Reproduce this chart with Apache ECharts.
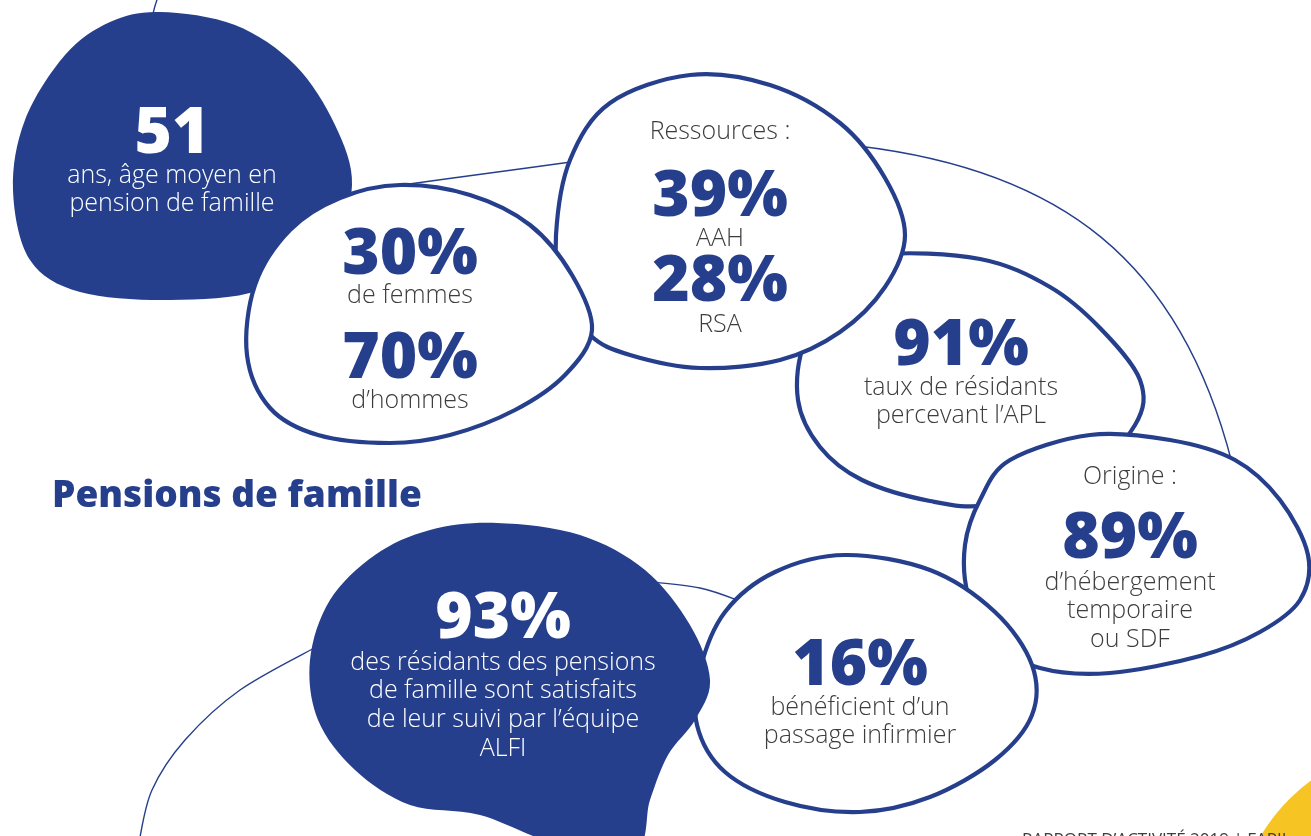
<!DOCTYPE html>
<html>
<head>
<meta charset="utf-8">
<script src="https://cdn.jsdelivr.net/npm/echarts@6/dist/echarts.min.js"></script>
<style>
html,body{margin:0;padding:0;background:#fff;}
#chart{width:1311px;height:836px;}
</style>
</head>
<body>
<div id="chart"></div>
<script>
// ---- data ----
const statValues = [51, 30, 70, 39, 28, 91, 89, 93, 16];
const statUnits = ['', '%', '%', '%', '%', '%', '%', '%', '%'];
const statCaptions = [
  ['ans, âge moyen en', 'pension de famille'],
  ['de femmes'],
  ['d’hommes'],
  ['AAH'],
  ['RSA'],
  ['taux de résidants', 'percevant l’APL'],
  ['d’hébergement', 'temporaire', 'ou SDF'],
  ['des résidants des pensions', 'de famille sont satisfaits', 'de leur suivi par l’équipe', 'ALFI'],
  ['bénéficient d’un', 'passage infirmier']
];
const groupHeadings = ['Ressources :', 'Origine :'];
const titleText = 'Pensions de famille';
const footerText = 'RAPPORT D’ACTIVITÉ 2019 | FAPIL';

// ---- layout / style (not data) ----
const BLUE = '#263F8C';
const GREY = '#3d3d3d';
const NUM_FONT = '"Open Sans", "Noto Sans", sans-serif';
const TXT_FONT = '"Open Sans", "Noto Sans", sans-serif';

const statLayout = [
  {x: 172, nb: 155, cb: 183, gap: 28, dark: true},
  {x: 410, nb: 276, cb: 303, gap: 28, dark: false},
  {x: 410, nb: 380, cb: 408, gap: 28, dark: false},
  {x: 720, nb: 218, cb: 246, gap: 28, dark: false},
  {x: 720, nb: 303, cb: 332, gap: 28, dark: false},
  {x: 961, nb: 367, cb: 395, gap: 28, dark: false},
  {x: 1130, nb: 560, cb: 590, gap: 28.5, dark: false},
  {x: 503, nb: 640, cb: 670, gap: 28.7, dark: true},
  {x: 860, nb: 687, cb: 715, gap: 28, dark: false}
];
const headingLayout = [{x: 720, b: 140}, {x: 1130, b: 485}];

const blobs = [
  {dark: true, pts: [[160,12],[235,25],[295,65],[335,125],[352,185],[330,245],[260,290],[170,300],[80,292],[30,260],[13,190],[25,120],[65,55],[110,22]]},
  {dark: false, pts: [[880,255],[980,259],[1050,287],[1100,328],[1140,380],[1135,425],[1080,480],[990,505],[930,501],[862,480],[820,447],[798,400],[805,340],[840,280]]},
  {dark: false, pts: [[690,75],[770,85],[840,123],[885,178],[905,235],[885,287],[840,332],[780,360],[700,368],[630,355],[590,335],[562,290],[556,235],[570,160],[610,103]]},
  {dark: false, pts: [[400,185],[470,195],[530,225],[572,275],[592,330],[565,375],[515,410],[450,435],[390,443],[318,435],[270,408],[247,355],[255,285],[290,230],[340,198]]},
  {dark: false, pts: [[1090,435],[1170,440],[1235,460],[1280,500],[1308,555],[1300,600],[1260,632],[1200,656],[1110,673],[1040,668],[990,640],[968,595],[965,545],[980,500],[1010,460]]},
  {dark: false, pts: [[845,555],[930,570],[995,612],[1032,665],[1032,715],[995,760],[930,797],[860,812],[785,802],[725,772],[697,725],[700,670],[725,612],[775,572]]},
  {dark: true, pts: [[497,523],[580,535],[645,570],[690,625],[710,680],[695,720],[668,755],[650,800],[635,850],[560,845],[480,815],[410,805],[355,770],[318,720],[310,660],[330,600],[375,555],[430,530]]}
];
// open splines
const thinLines = [
  [[159,-6],[155,6],[152,18]],
  [[380,188],[490,173],[600,158]],
  [[640,581],[700,588],[745,603]],
  [[318,646],[240,690],[185,740],[152,790],[139,842]]
];
// single cubic arc: x1,y1, cpx1,cpy1, cpx2,cpy2, x2,y2
const thinArcs = [
  [858, 146, 1060, 170, 1180, 260, 1232, 463]
];

const SplineShape = echarts.graphic.extendShape({
  type: 'spline',
  shape: {pts: [], closed: true},
  buildPath: function (ctx, shape) {
    const pts = shape.pts, n = pts.length, closed = shape.closed;
    if (!n) return;
    const get = function (i) {
      if (closed) return pts[(i + n) % n];
      return pts[Math.max(0, Math.min(n - 1, i))];
    };
    ctx.moveTo(pts[0][0], pts[0][1]);
    const segs = closed ? n : n - 1;
    for (let i = 0; i < segs; i++) {
      const p0 = get(i - 1), p1 = get(i), p2 = get(i + 1), p3 = get(i + 2);
      ctx.bezierCurveTo(
        p1[0] + (p2[0] - p0[0]) / 6, p1[1] + (p2[1] - p0[1]) / 6,
        p2[0] - (p3[0] - p1[0]) / 6, p2[1] - (p3[1] - p1[1]) / 6,
        p2[0], p2[1]);
    }
    if (closed) ctx.closePath();
  }
});
echarts.graphic.registerShape('spline', SplineShape);

const elements = [];
thinLines.forEach(function (l) {
  elements.push({type: 'spline', silent: true, shape: {pts: l, closed: false},
    style: {fill: null, stroke: BLUE, lineWidth: 1.4}});
});
thinArcs.forEach(function (a) {
  elements.push({type: 'bezierCurve', silent: true,
    shape: {x1: a[0], y1: a[1], cpx1: a[2], cpy1: a[3], cpx2: a[4], cpy2: a[5], x2: a[6], y2: a[7]},
    style: {fill: null, stroke: BLUE, lineWidth: 1.4}});
});
blobs.forEach(function (b) {
  elements.push({type: 'spline', silent: true, shape: {pts: b.pts, closed: true},
    style: b.dark ? {fill: BLUE, stroke: null} : {fill: '#ffffff', stroke: BLUE, lineWidth: 4.2}});
});

function txt(x, y, text, font, color, align) {
  return {type: 'text', silent: true, x: x, y: y,
    style: {text: text, font: font, fill: color, textAlign: align || 'center', textVerticalAlign: 'middle'}};
}
const NUM_SIZE = 64, CAP_SIZE = 25;
statValues.forEach(function (v, i) {
  const L = statLayout[i];
  const col = L.dark ? '#ffffff' : BLUE;
  elements.push(txt(L.x, L.nb - 0.31 * NUM_SIZE, String(v) + statUnits[i],
    '800 ' + NUM_SIZE + 'px ' + NUM_FONT, col));
  statCaptions[i].forEach(function (line, k) {
    elements.push(txt(L.x, L.cb + k * L.gap - 0.3 * CAP_SIZE, line,
      '300 ' + CAP_SIZE + 'px ' + TXT_FONT, L.dark ? '#ffffff' : GREY));
  });
});
groupHeadings.forEach(function (h, i) {
  const L = headingLayout[i];
  elements.push(txt(L.x, L.b - 0.33 * CAP_SIZE, h, '300 ' + CAP_SIZE + 'px ' + TXT_FONT, GREY));
});
elements.push(txt(52, 509 - 0.34 * 37, titleText, '800 37px ' + NUM_FONT, BLUE, 'left'));
elements.push({type: 'circle', silent: true, shape: {cx: 1420, cy: 930, r: 185}, style: {fill: '#F6C523'}});
elements.push(txt(1022, 846 - 0.34 * 17, footerText, '400 17px ' + TXT_FONT, GREY, 'left'));

const chart = echarts.init(document.getElementById('chart'), null, {renderer: 'canvas'});
chart.setOption({
  backgroundColor: '#ffffff',
  animation: false,
  graphic: {elements: elements}
});
</script>
</body>
</html>
